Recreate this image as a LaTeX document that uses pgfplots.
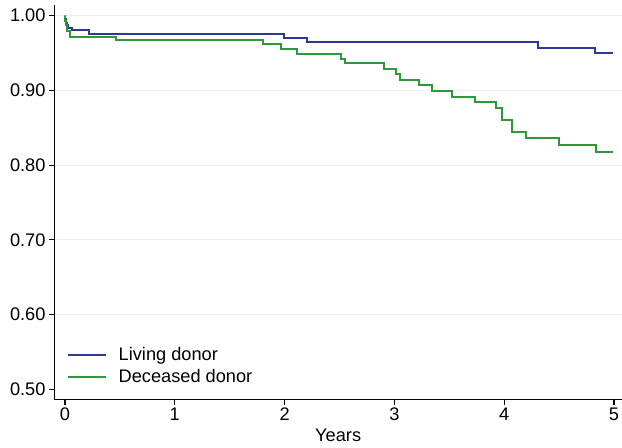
\documentclass[border=0pt]{standalone}
\usepackage{pgfplots}
\pgfplotsset{compat=1.18}
\usepackage{fontspec}
\setmainfont{Liberation Sans}
\definecolor{livblue}{RGB}{42,58,150}
\definecolor{decgreen}{RGB}{46,152,60}
\definecolor{gridc}{RGB}{232,240,242}
\begin{document}
\begin{tikzpicture}
\useasboundingbox (0,0) rectangle (622bp,448bp);
\begin{axis}[
  at={(54.3bp,48.7bp)}, anchor=south west,
  scale only axis, width=567.7bp, height=394.3bp,
  xmin=-0.097, xmax=5.073, ymin=0.4866, ymax=1.0143,
  axis lines*=left,
  axis line style={line width=1.1bp, black},
  tick align=outside, tick style={line width=1.1bp, black},
  major tick length=5.3bp,
  xtick={0,1,2,3,4,5},
  ytick={0.6,0.7,0.8,0.9,1.0},
  extra y ticks={0.5},
  extra y tick style={grid=none},
  ymajorgrids, grid style={gridc, line width=1bp},
  font=\fontsize{18.2bp}{21bp}\selectfont,
  /pgf/number format/assume math mode=true,
  yticklabel style={/pgf/number format/.cd, fixed, fixed zerofill, precision=2},
  xticklabel style={/pgf/number format/.cd, fixed, precision=0},
  xlabel={Years},
  xlabel style={at={(axis description cs:0.5,0)}, anchor=base, yshift=-42.4bp, inner sep=0pt},
  legend cell align=left,
  legend style={draw=none, fill=none, inner sep=0pt, outer sep=0pt,
    at={(rel axis cs:0.0229,0.132)}, anchor=north west,
    nodes={inner sep=0pt}, column sep=11.7bp, row sep=7.3bp,
    font=\fontsize{18.2bp}{21bp}\selectfont},
  legend image code/.code={\draw[#1] (0bp,0bp) -- (37.7bp,0bp);},
  every axis plot/.append style={line width=2bp},
]
\addplot[const plot, livblue, line width=2bp] coordinates {
(0,1.000) (0.003,0.995) (0.008,0.990) (0.015,0.987) (0.030,0.984) (0.066,0.981)
(0.216,0.976) (1.997,0.9705) (2.207,0.965) (4.305,0.957) (4.827,0.9496) (4.99,0.9496)
};
\addlegendentry{Living donor}
\addplot[const plot, decgreen, line width=2bp] coordinates {
(0,1.000) (0.003,0.993) (0.008,0.987) (0.015,0.982) (0.020,0.979) (0.045,0.972)
(0.462,0.967) (1.806,0.962) (1.964,0.955) (2.116,0.949) (2.514,0.942) (2.55,0.936)
(2.905,0.928) (3.012,0.9215) (3.051,0.914) (3.221,0.907) (3.340,0.8995) (3.527,0.891)
(3.731,0.885) (3.923,0.877) (3.977,0.861) (4.068,0.844) (4.196,0.836) (4.502,0.827)
(4.836,0.818) (4.99,0.818)
};
\addlegendentry{Deceased donor}
\end{axis}
\end{tikzpicture}
\end{document}
